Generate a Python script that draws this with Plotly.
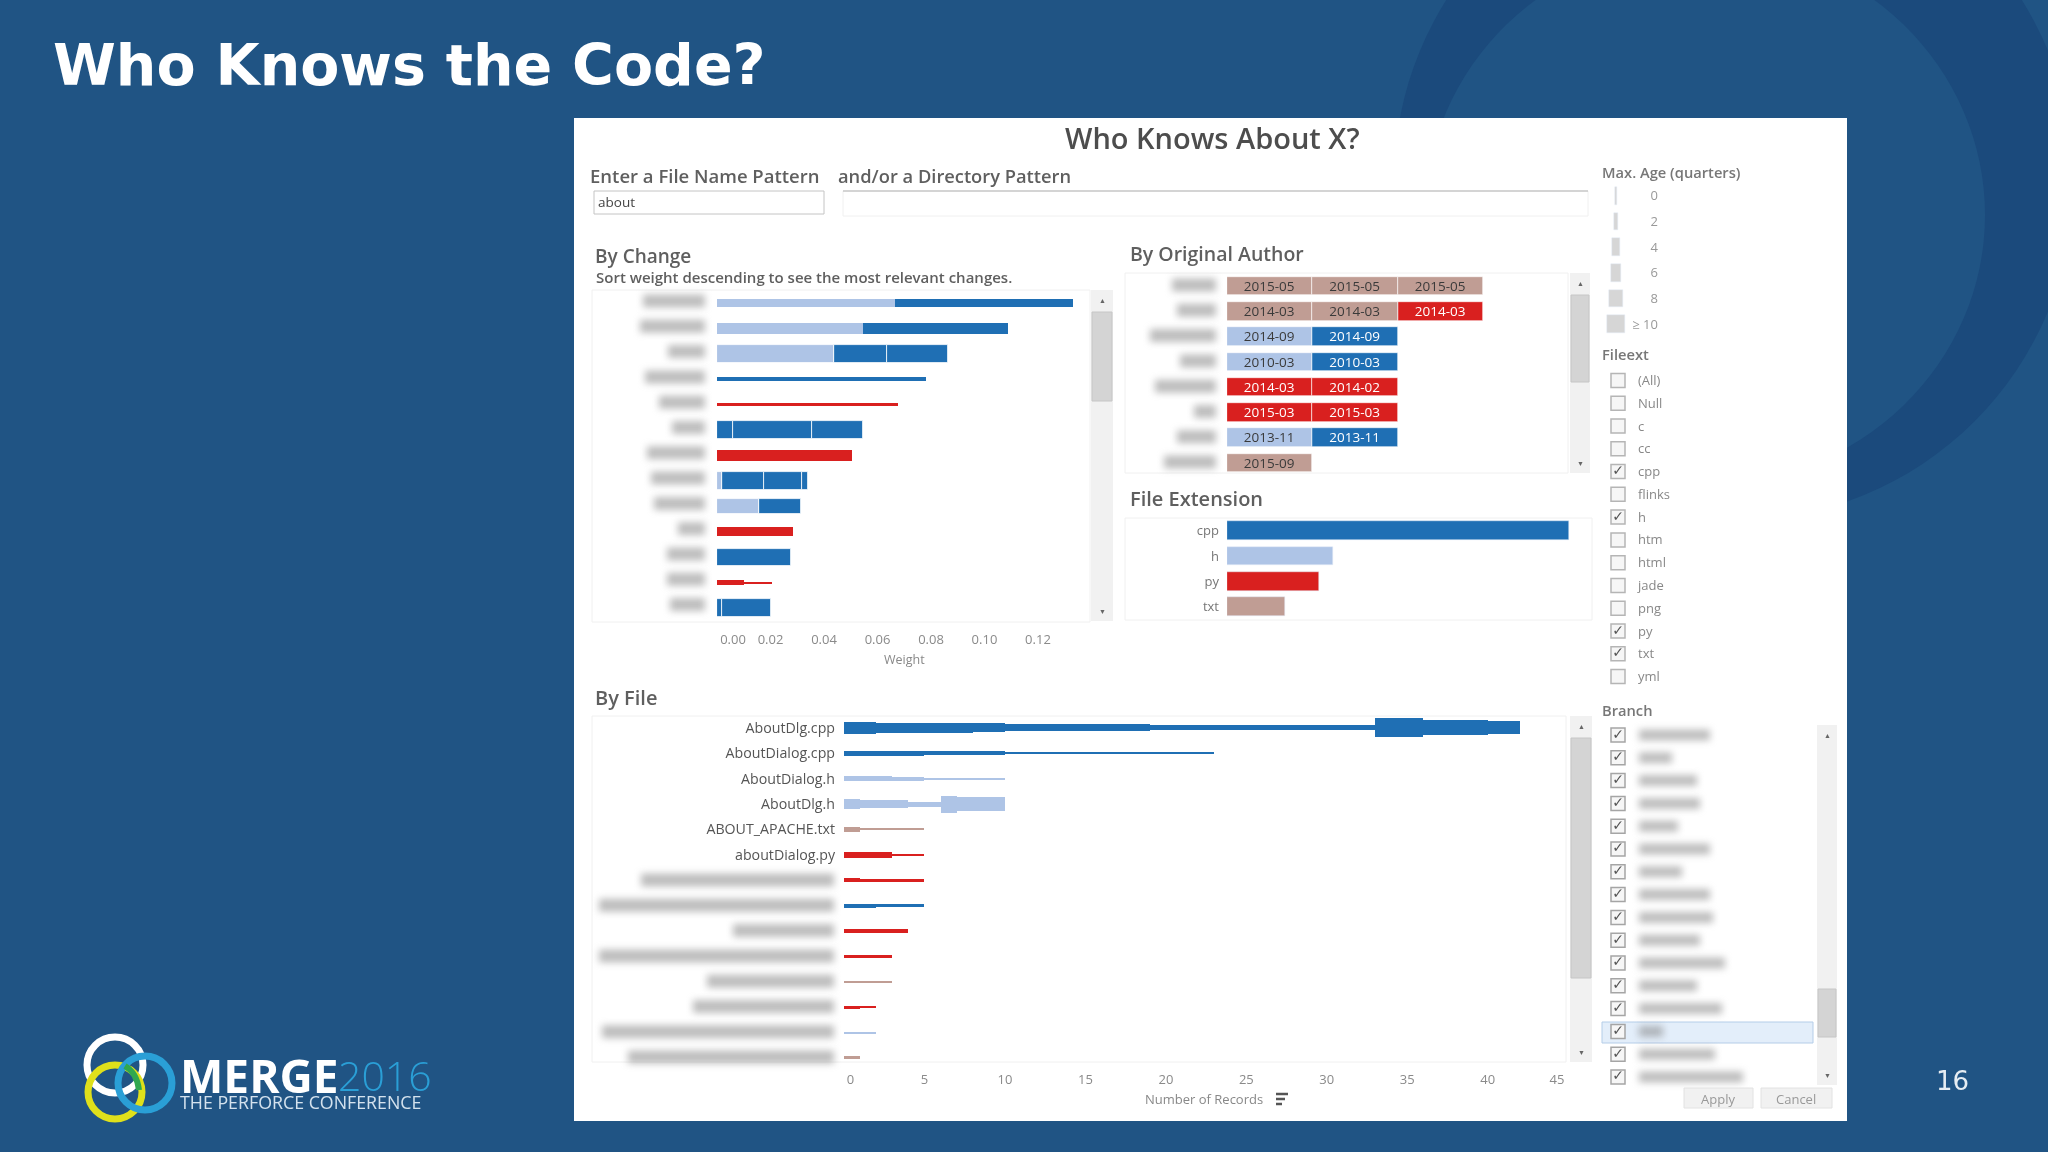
import plotly.graph_objects as go

W, H = 2048, 1152

ext_colors = {'cpp': '#1f6fb4', 'h': '#aec4e6', 'py': '#d9201f', 'txt': '#c09d94'}

# By Change, one entry per bar segment
change_row = [0, 0, 1, 1, 1, 2, 2, 2, 3, 4, 5, 5, 5, 6, 6, 7, 7, 7, 7, 8, 8, 9, 10, 11, 11, 12, 12]
change_ext = ['h', 'cpp', 'h', 'cpp', 'cpp', 'h', 'cpp', 'cpp', 'cpp', 'py', 'cpp', 'cpp', 'cpp', 'py', 'py',
              'h', 'cpp', 'cpp', 'cpp', 'h', 'cpp', 'py', 'cpp', 'py', 'py', 'cpp', 'cpp']
change_weight = [.0665, .0665, .0545, .0197, .0345, .0438, .0196, .0231, .0782, .0678, .006, .0295, .019, .002, .0485,
                 .002, .0154, .0144, .0024, .0158, .0157, .0284, .0278, .0101, .0103, .002, .018]
change_age = [4, 4, 6, 6, 6, 10, 10, 10, 2.5, 2, 10, 10, 10, 6, 6, 10, 10, 10, 10, 8, 8, 5, 9.5, 3, 1, 10, 10]
change_ticks = [0.006, 0.02, 0.04, 0.06, 0.08, 0.10, 0.12]
change_ticktext = ['0.00', '0.02', '0.04', '0.06', '0.08', '0.10', '0.12']

# By Original Author, one entry per cell
author_row = [0, 0, 0, 1, 1, 1, 2, 2, 3, 3, 4, 4, 5, 5, 6, 6, 7]
author_ext = ['txt', 'txt', 'txt', 'txt', 'txt', 'py', 'h', 'cpp', 'h', 'cpp', 'py', 'py', 'py', 'py', 'h', 'cpp', 'txt']
author_date = ['2015-05', '2015-05', '2015-05', '2014-03', '2014-03', '2014-03', '2014-09', '2014-09', '2010-03',
               '2010-03', '2014-03', '2014-02', '2015-03', '2015-03', '2013-11', '2013-11', '2015-09']

# File Extension
ext_names = ['cpp', 'h', 'py', 'txt']
ext_totals = [100, 31, 27, 17]

# By File, one entry per bar segment
file_names = ['AboutDlg.cpp', 'AboutDialog.cpp', 'AboutDialog.h', 'AboutDlg.h', 'ABOUT_APACHE.txt', 'aboutDialog.py']
file_row = [0, 0, 0, 0, 0, 0, 0, 0, 1, 1, 1, 2, 2, 2, 3, 3, 3, 3, 3, 4, 4, 5, 5, 6, 6, 7, 7, 8, 9, 10, 11, 11, 12, 13]
file_ext = ['cpp'] * 8 + ['cpp'] * 3 + ['h'] * 3 + ['h'] * 5 + ['txt'] * 2 + ['py'] * 2 + ['py'] * 2 + ['cpp'] * 2 + \
    ['py', 'py', 'txt', 'py', 'py', 'h', 'txt']
file_records = [2, 6, 2, 9, 14, 3, 4, 2, 5, 5, 13, 3, 2, 5, 1, 3, 2, 1, 3, 1, 4, 3, 2, 1, 4, 2, 3, 4, 3, 3, 1, 1, 2, 1]
file_age = [6.7, 5.5, 5, 3.9, 2.8, 10.5, 8.3, 7.2, 2.8, 2.2, 1, 2.8, 2.2, 1, 5.5, 4.4, 2.8, 9.4, 7.8, 2.8, 1, 3.3, 1,
            2.2, 1.7, 2.2, 1.7, 1.7, 1.7, 1, 1.7, 1, 1, 1.7]
file_ticks = [0.4, 5, 10, 15, 20, 25, 30, 35, 40, 44.3]
file_ticktext = ['0', '5', '10', '15', '20', '25', '30', '35', '40', '45']

# Filters
age_levels = [0, 2, 4, 6, 8, 10]
age_labels = ['0', '2', '4', '6', '8', '≥ 10']
fileext_options = ['(All)', 'Null', 'c', 'cc', 'cpp', 'flinks', 'h', 'htm', 'html', 'jade', 'png', 'py', 'txt', 'yml']
fileext_checked = ['cpp', 'h', 'py', 'txt']

# Lengths of the labels that are blurred out in the picture
change_blur = [66, 69, 41, 64, 50, 37, 62, 58, 55, 31, 42, 42, 39]
author_blur = [48, 43, 70, 40, 65, 26, 43, 56]
file_blur = [197, 239, 105, 239, 131, 145, 236, 210]
branch_blur = [75, 37, 62, 65, 43, 75, 47, 75, 78, 65, 90, 62, 87, 28, 80, 108]


def age_px(age):
    return max(2, 1.8 * age)


def dom_x(a, b):
    return [a / W, b / W]


def dom_y(a, b):
    return [1 - b / H, 1 - a / H]


def px(x):
    return x / W


def py(y):
    return 1 - y / H


def rect(x0, y0, x1, y1, fill='rgba(0,0,0,0)', line=None, width=1):
    shapes.append(dict(type='rect', xref='paper', yref='paper', x0=px(x0), x1=px(x1), y0=py(y0), y1=py(y1),
                       fillcolor=fill, line=dict(color=line, width=width if line else 0), layer='below'))


def oval(x0, y0, x1, y1, fill='rgba(0,0,0,0)', line=None, width=1):
    shapes.append(dict(type='circle', xref='paper', yref='paper', x0=px(x0), x1=px(x1), y0=py(y0), y1=py(y1),
                       fillcolor=fill, line=dict(color=line, width=width if line else 0), layer='below'))


def blur(x0, x1, yc, half=6.5):
    # grey smear where a label was blurred out, softened by the script at the end
    rect(x0 + 2, yc - half, x1 - 2, yc + half, fill='rgba(125,125,125,0.5)')


def label(x, y, text, size=13, color='#5f5f5f', anchor='left', family='Open Sans', weight=400):
    annotations.append(dict(xref='paper', yref='paper', x=px(x), y=py(y), text=text, showarrow=False, xanchor=anchor,
                            yanchor='middle', font=dict(family=family, size=size, color=color, weight=weight),
                            borderpad=0))


def scrollbar(x0, x1, y0, y1, thumb0, thumb1):
    rect(x0, y0, x1, y1, fill='#f1f1f1')
    rect(x0 + 1, thumb0, x1 - 1, thumb1, fill='#d4d4d4', line='#c6c6c6')
    label((x0 + x1) / 2, y0 + 10, '▲', size=7, color='#666', anchor='center')
    label((x0 + x1) / 2, y1 - 10, '▼', size=7, color='#666', anchor='center')


def segment_bars(rows, exts, values, ages, xa, ya, row_px, divider=True):
    # stack each row's segments end to end, one trace per extension
    ends = {}
    starts = []
    for row, value in zip(rows, values):
        starts.append(ends.get(row, 0))
        ends[row] = starts[-1] + value
    for ext, color in ext_colors.items():
        keep = [i for i, e in enumerate(exts) if e == ext]
        fig.add_trace(go.Bar(orientation='h', xaxis=xa, yaxis=ya,
                             y=[rows[i] for i in keep], x=[values[i] for i in keep], base=[starts[i] for i in keep],
                             width=[age_px(ages[i]) / row_px for i in keep],
                             marker=dict(color=color, line=dict(color='white', width=[
                                 0.8 if divider and ages[i] >= 8 else 0 for i in keep])),
                             showlegend=False))


fig = go.Figure()
shapes = []
annotations = []

# slide background and the white dashboard panel
oval(1394, -159, 2074, 521, fill='#1b4a7c')
oval(1425, -55, 1985, 485, fill='#205484')
rect(574, 118, 1847, 1121, fill='white')

# titles and inputs
label(52, 65, 'Who Knows the Code?', size=57, color='white', family='DejaVu Sans', weight=700)
label(1212, 137, 'Who Knows About X?', size=29, color='#4d4d4d', anchor='center', weight=600)
label(589, 175, 'Enter a File Name Pattern', size=18.5, weight=600)
label(837, 175, 'and/or a Directory Pattern', size=18.3, weight=600)
rect(594, 191, 824, 214, line='#c4c4c4')
label(597, 202, 'about', size=13.5, color='#444')
rect(843, 191, 1588, 216, line='#f0f0f0')
shapes.append(dict(type='line', xref='paper', yref='paper', x0=px(843), x1=px(1588), y0=py(191), y1=py(191),
                   line=dict(color='#c8c8c8', width=1.5), layer='below'))

label(594, 256, 'By Change', size=19, weight=600)
label(595, 276.5, 'Sort weight descending to see the most relevant changes.', size=15, weight=600)
label(1129, 253, 'By Original Author', size=19.5, weight=600)
label(1129, 498, 'File Extension', size=20, weight=600)
label(594, 697, 'By File', size=20, weight=600)
label(1601, 172, 'Max. Age (quarters)', size=14.7, color='#777', weight=600)
label(1601, 354, 'Fileext', size=14.7, color='#777', weight=600)
label(1601, 710, 'Branch', size=14.7, color='#777', weight=600)

# panel frames and scrollbars
rect(592, 290, 1090, 622, line='#f0f0f0')
scrollbar(1091, 1113, 290, 621, 312, 401)
rect(1125, 273, 1568, 473, line='#f0f0f0')
scrollbar(1570, 1590, 273, 473, 295, 382)
rect(1125, 518, 1592, 620, line='#f0f0f0')
rect(592, 716, 1566, 1062, line='#f0f0f0')
scrollbar(1570, 1592, 716, 1062, 738, 978)
scrollbar(1817, 1837, 725, 1085, 989, 1037)

# blurred labels
for i, w in enumerate(change_blur):
    blur(707 - w, 707, 301 + 25.3 * i)
for i, w in enumerate(author_blur):
    blur(1218 - w, 1218, 285 + 25.3 * i)
for i, w in enumerate(file_blur):
    blur(836 - w, 836, 880 + 25.3 * i)

# By Change
segment_bars(change_row, change_ext, change_weight, change_age, 'x', 'y', 25.4)

# By Original Author
author_ends = {}
author_start = []
for row in author_row:
    author_start.append(author_ends.get(row, 0))
    author_ends[row] = author_start[-1] + 1
for ext, color in ext_colors.items():
    keep = [i for i, e in enumerate(author_ext) if e == ext]
    fig.add_trace(go.Bar(orientation='h', xaxis='x2', yaxis='y2',
                         y=[author_row[i] for i in keep], x=[1] * len(keep), base=[author_start[i] for i in keep],
                         width=0.73, text=[author_date[i] for i in keep], textposition='inside',
                         insidetextanchor='middle', textangle=0, constraintext='none',
                         insidetextfont=dict(family='Open Sans', size=13.5,
                                             color='white' if ext in ('cpp', 'py') else '#3a3a3a'),
                         marker=dict(color=color, line=dict(color='white', width=0.6)), showlegend=False))

# File Extension
fig.add_trace(go.Bar(orientation='h', xaxis='x3', yaxis='y3', y=ext_names, x=ext_totals, width=0.73,
                     marker=dict(color=[ext_colors[e] for e in ext_names]), showlegend=False))

# By File
segment_bars(file_row, file_ext, file_records, file_age, 'x4', 'y4', 25.3, divider=False)

# Max. Age size legend
age_sizes = [age_px(a) for a in age_levels]
fig.add_trace(go.Bar(orientation='h', xaxis='x5', yaxis='y5', y=age_labels, x=age_sizes,
                     base=[-s / 2 for s in age_sizes], width=0.68, marker=dict(color='#d6d6d6'), showlegend=False))

# Fileext checkboxes
fig.add_trace(go.Scatter(xaxis='x6', yaxis='y6', x=[0] * len(fileext_options), y=fileext_options, mode='markers',
                         marker=dict(symbol='square', size=14, color='#f6f6f6', line=dict(color='#b5b5b5', width=1.5)),
                         showlegend=False))
fig.add_trace(go.Scatter(xaxis='x6', yaxis='y6', x=[0] * len(fileext_checked), y=fileext_checked, mode='text',
                         text=['✓'] * len(fileext_checked), textfont=dict(family='DejaVu Sans', size=14, color='#555'),
                         showlegend=False))

# Branch checkboxes
branch_rows = list(range(len(branch_blur)))
rect(1602, 1022, 1813, 1043, fill='#e3eefa', line='#b4cde8')
for i, w in enumerate(branch_blur):
    blur(1637, 1637 + w, 735 + 22.8 * i, half=5.5)
fig.add_trace(go.Scatter(xaxis='x7', yaxis='y7', x=[0] * len(branch_rows), y=branch_rows, mode='markers+text',
                         text=['✓'] * len(branch_rows), textposition='middle center',
                         textfont=dict(family='DejaVu Sans', size=14, color='#555'),
                         marker=dict(symbol='square', size=14, color='#f6f6f6', line=dict(color='#a5a5a5', width=1.5)),
                         showlegend=False))

# Apply / Cancel
rect(1684, 1088, 1753, 1108, fill='#f1f1f1', line='#e2e2e2')
rect(1761, 1088, 1832, 1108, fill='#f1f1f1', line='#e2e2e2')
label(1718, 1099, 'Apply', size=13, color='#999', anchor='center')
label(1796, 1099, 'Cancel', size=13, color='#999', anchor='center')

# axis captions
label(904, 659, 'Weight', size=12.5, color='#888', anchor='center')
label(1204, 1099, 'Number of Records', size=13, color='#888', anchor='center')
for y, x1 in [(1094, 1288), (1099, 1285), (1104, 1282)]:
    shapes.append(dict(type='line', xref='paper', yref='paper', x0=px(1276), x1=px(x1), y0=py(y), y1=py(y),
                       line=dict(color='#555', width=2.5), layer='below'))

# conference logo and page number
oval(87, 1037, 143, 1093, line='white', width=7)
oval(88, 1065, 142, 1119, line='#dfe01b', width=7)
oval(118, 1056, 172, 1110, line='#2a9fd6', width=7)
shapes.append(dict(type='path', xref='paper', yref='paper', layer='below', line=dict(color='#2fa84f', width=6),
                   path=f'M {px(125)} {py(1066)} Q {px(137)} {py(1073)} {px(139)} {py(1090)}'))
label(179, 1075, 'MERGE', size=46, color='white', weight=700)
label(337, 1075, '2016', size=41, color='#2a9fd6', weight=300)
label(179, 1102, 'THE PERFORCE CONFERENCE', size=17.8, color='#d4e2ee')
label(1952, 1081, '16', size=26, color='#e6edf3', anchor='center', family='DejaVu Sans')

hidden = dict(showgrid=False, zeroline=False, showline=False, showticklabels=False, ticks='', fixedrange=True)
tick_font = dict(family='Open Sans', size=13, color='#8a8a8a')

fig.update_layout(
    width=W, height=H, margin=dict(l=0, r=0, t=0, b=0, pad=0), autosize=False,
    paper_bgcolor='#205484', plot_bgcolor='rgba(0,0,0,0)', barmode='overlay', bargap=0, showlegend=False,
    shapes=shapes, annotations=annotations,
    xaxis=dict(hidden, domain=dom_x(717, 1088), range=[0, 0.1387], showticklabels=True, tickvals=change_ticks,
               ticktext=change_ticktext, tickfont=tick_font, ticklabelstandoff=8),
    yaxis=dict(hidden, domain=dom_y(290, 622), range=[12.55, -0.51]),
    xaxis2=dict(hidden, domain=dom_x(1227, 1567), range=[0, 3.98], anchor='y2'),
    yaxis2=dict(hidden, domain=dom_y(273, 473), range=[7.4, -0.52], anchor='x2'),
    xaxis3=dict(hidden, domain=dom_x(1227, 1590), range=[0, 106.1], anchor='y3'),
    yaxis3=dict(hidden, domain=dom_y(518, 620), range=[3.53, -0.5], anchor='x3', showticklabels=True, type='category',
                tickfont=dict(tick_font, color='#777'), ticklabelstandoff=7),
    xaxis4=dict(hidden, domain=dom_x(844, 1565), range=[0, 44.8], anchor='y4', showticklabels=True, tickvals=file_ticks,
                ticktext=file_ticktext, tickfont=tick_font, ticklabelstandoff=8),
    yaxis4=dict(hidden, domain=dom_y(716, 1062), range=[13.16, -0.47], anchor='x4', showticklabels=True,
                tickvals=list(range(len(file_names))), ticktext=file_names, ticklabelstandoff=8,
                tickfont=dict(tick_font, size=14.2, color='#555')),
    xaxis5=dict(hidden, domain=dom_x(1600, 1658), range=[-16, 42], anchor='y5'),
    yaxis5=dict(hidden, domain=dom_y(183, 337), range=[5.5, -0.5], anchor='free', position=1658 / W,
                showticklabels=True, type='category', tickfont=dict(tick_font, color='#999')),
    xaxis6=dict(hidden, domain=dom_x(1608, 1628), range=[-1, 1], anchor='y6'),
    yaxis6=dict(hidden, domain=dom_y(369, 688), range=[13.5, -0.5], anchor='x6', side='right', showticklabels=True,
                type='category', tickfont=dict(tick_font, color='#888'), ticklabelstandoff=9),
    xaxis7=dict(hidden, domain=dom_x(1608, 1628), range=[-1, 1], anchor='y7'),
    yaxis7=dict(hidden, domain=dom_y(723.6, 1088.4), range=[15.5, -0.5], anchor='x7'),
)

# the reference is a soft video frame, and its private labels are smeared
post_script = """
document.body.style.margin = '0';
document.querySelectorAll('path').forEach(function (p) {
    if (p.style.fill.indexOf('125, 125, 125') >= 0) { p.style.filter = 'blur(3.5px)'; }
});
document.querySelector('.js-plotly-plot').style.filter = 'blur(0.6px)';
"""
fig.write_html("out.html", post_script=post_script, config={'displayModeBar': False})
